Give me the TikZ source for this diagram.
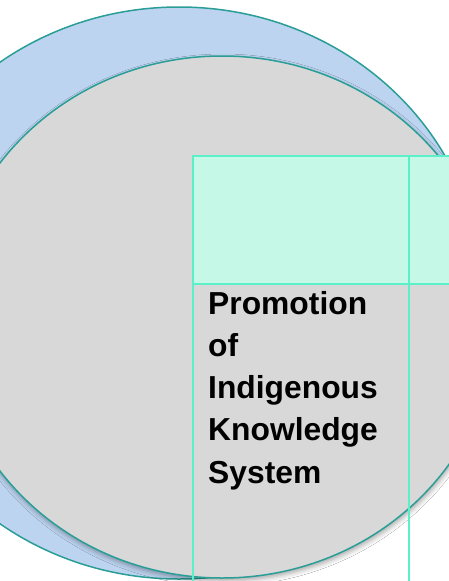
\documentclass[tikz,border=0pt]{standalone}
\usepackage{fontspec}
\setmainfont{Liberation Sans}
\usetikzlibrary{shadows.blur}
\definecolor{bluefill}{HTML}{BDD4F0}
\definecolor{greyfill}{HTML}{D8D8D8}
\definecolor{rimteal}{HTML}{2A9E96}
\definecolor{gridline}{HTML}{5CF0C8}
\definecolor{cellfill}{HTML}{C6F8E8}
\tikzset{
  rim/.style={draw=rimteal, line width=1.5pt},
  gridstroke/.style={draw=gridline, line width=1.8pt},
  labeltext/.style={anchor=base west, inner sep=0pt, align=left,
    font=\fontsize{31.8}{42.25}\selectfont\bfseries, text=black}
}
\begin{document}
\begin{tikzpicture}[x=1pt,y=-1pt]
\useasboundingbox (0,0) rectangle (449,581);
\clip (0,0) rectangle (449,581);
\fill[white] (0,0) rectangle (449,581);
% back circle
\draw[rim, fill=bluefill] (179,293) ellipse [x radius=303, y radius=286];
% front circle
\draw[rim, fill=greyfill, blur shadow={shadow xshift=1pt, shadow yshift=-3pt, shadow blur radius=5pt, shadow opacity=35}] (222,317) ellipse [x radius=275, y radius=261];
% table
\fill[cellfill] (193,156) rectangle (460,284);
\draw[gridstroke] (460,156) -- (193,156) -- (193,600);
\draw[gridstroke] (193,284) -- (460,284);
\draw[gridstroke] (409,156) -- (409,600);
\node[labeltext] (label) at (208,483) {Promotion\\of\\Indigenous\\Knowledge\\System};
\end{tikzpicture}
\end{document}
